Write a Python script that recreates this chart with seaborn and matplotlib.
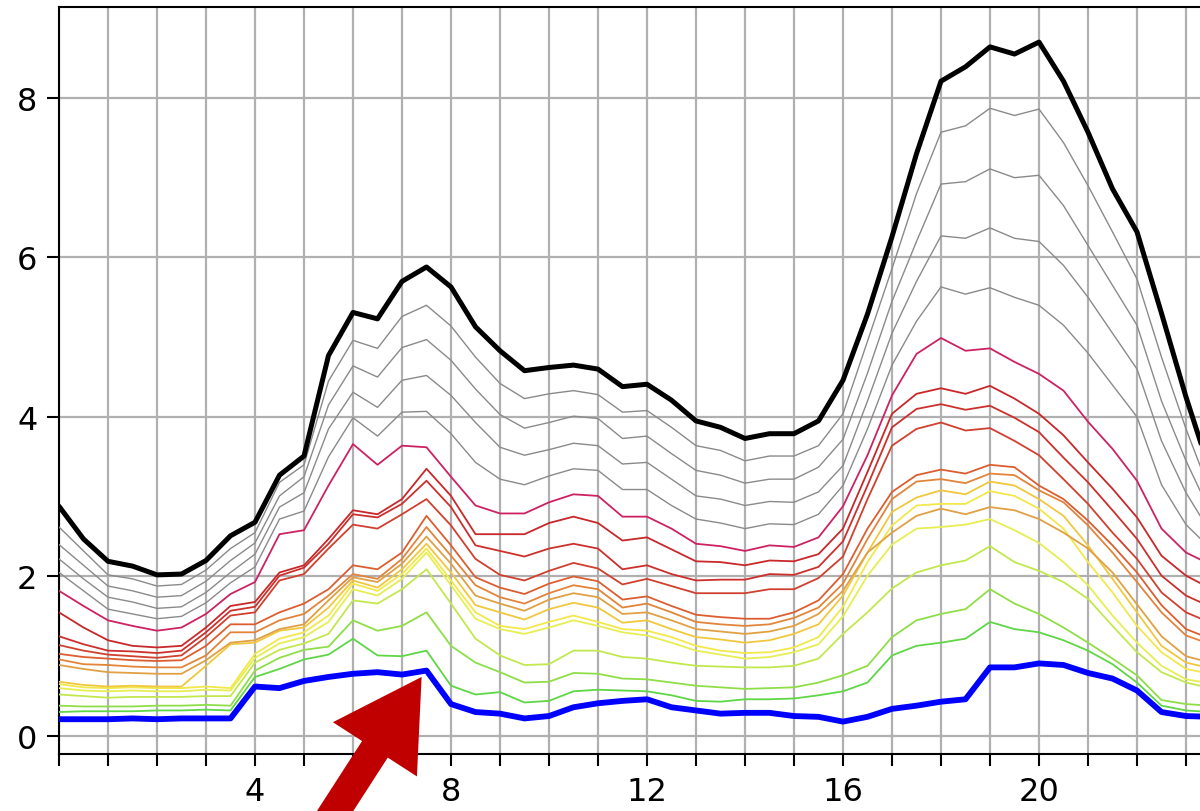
import numpy as np
import pandas as pd
import matplotlib
matplotlib.use("Agg")
import matplotlib.pyplot as plt
from matplotlib.ticker import MultipleLocator, FixedLocator
import seaborn as sns

# ---------------- data ----------------
hours = [i * 0.5 for i in range(48)]

upper_max = [2.88, 2.47, 2.19, 2.13, 2.02, 2.03, 2.20, 2.51,
             2.68, 3.27, 3.51, 4.77, 5.31, 5.23, 5.70, 5.88,
             5.63, 5.13, 4.83, 4.58, 4.62, 4.65, 4.60, 4.38,
             4.41, 4.21, 3.95, 3.87, 3.73, 3.79, 3.79, 3.95,
             4.46, 5.29, 6.26, 7.30, 8.21, 8.39, 8.64, 8.55,
             8.70, 8.21, 7.57, 6.86, 6.32, 5.30, 4.25, 3.30]

lower_min = [0.21, 0.21, 0.21, 0.22, 0.21, 0.22, 0.22, 0.22,
             0.62, 0.60, 0.69, 0.74, 0.78, 0.80, 0.77, 0.82,
             0.40, 0.30, 0.28, 0.22, 0.25, 0.36, 0.41, 0.44,
             0.46, 0.36, 0.32, 0.28, 0.29, 0.29, 0.25, 0.24,
             0.18, 0.24, 0.34, 0.38, 0.43, 0.46, 0.86, 0.86,
             0.91, 0.89, 0.79, 0.72, 0.57, 0.30, 0.25, 0.24]

gray_4 = [2.62, 2.32, 2.02, 1.97, 1.88, 1.90, 2.08, 2.35,
          2.55, 3.18, 3.40, 4.45, 4.96, 4.86, 5.26, 5.40,
          5.14, 4.75, 4.42, 4.23, 4.29, 4.33, 4.28, 4.06,
          4.08, 3.87, 3.64, 3.58, 3.45, 3.51, 3.51, 3.64,
          4.04, 4.95, 5.86, 6.80, 7.57, 7.65, 7.87, 7.78,
          7.86, 7.44, 6.90, 6.32, 5.73, 4.75, 3.85, 3.05]
gray_3 = [2.40, 2.14, 1.88, 1.82, 1.74, 1.76, 1.94, 2.20,
          2.42, 3.01, 3.25, 4.15, 4.64, 4.50, 4.87, 4.97,
          4.71, 4.35, 4.03, 3.86, 3.93, 4.01, 3.98, 3.73,
          3.76, 3.54, 3.33, 3.27, 3.17, 3.22, 3.22, 3.37,
          3.72, 4.55, 5.45, 6.20, 6.92, 6.95, 7.11, 7.00,
          7.03, 6.65, 6.15, 5.65, 5.15, 4.20, 3.45, 2.80]
gray_2 = [2.22, 1.97, 1.74, 1.68, 1.60, 1.62, 1.80, 2.05,
          2.28, 2.87, 3.05, 3.85, 4.31, 4.12, 4.46, 4.52,
          4.27, 3.93, 3.62, 3.52, 3.59, 3.67, 3.64, 3.41,
          3.43, 3.22, 3.01, 2.97, 2.89, 2.94, 2.93, 3.06,
          3.39, 4.20, 5.05, 5.70, 6.27, 6.24, 6.37, 6.24,
          6.20, 5.90, 5.50, 5.05, 4.60, 3.70, 3.05, 2.55]
gray_1 = [2.05, 1.82, 1.59, 1.53, 1.47, 1.50, 1.67, 1.92,
          2.12, 2.72, 2.82, 3.50, 3.99, 3.76, 4.06, 4.07,
          3.79, 3.43, 3.22, 3.15, 3.26, 3.35, 3.33, 3.09,
          3.09, 2.89, 2.72, 2.67, 2.60, 2.66, 2.65, 2.78,
          3.14, 3.85, 4.65, 5.20, 5.63, 5.54, 5.62, 5.50,
          5.40, 5.15, 4.80, 4.40, 4.00, 3.15, 2.65, 2.35]

crimson = [1.82, 1.63, 1.45, 1.38, 1.32, 1.36, 1.53, 1.78,
           1.93, 2.53, 2.58, 3.14, 3.66, 3.40, 3.64, 3.62,
           3.25, 2.89, 2.79, 2.79, 2.93, 3.03, 3.01, 2.75,
           2.75, 2.60, 2.41, 2.38, 2.32, 2.39, 2.37, 2.49,
           2.88, 3.52, 4.27, 4.79, 4.99, 4.83, 4.86, 4.69,
           4.54, 4.33, 3.94, 3.60, 3.20, 2.60, 2.30, 2.15]
red_3 = [1.55, 1.36, 1.20, 1.13, 1.11, 1.13, 1.36, 1.63,
         1.68, 2.05, 2.14, 2.47, 2.83, 2.78, 2.97, 3.35,
         3.01, 2.53, 2.53, 2.53, 2.67, 2.75, 2.67, 2.45,
         2.49, 2.34, 2.19, 2.18, 2.14, 2.20, 2.19, 2.28,
         2.60, 3.31, 4.04, 4.29, 4.36, 4.29, 4.39, 4.23,
         4.04, 3.77, 3.43, 3.10, 2.74, 2.26, 2.01, 1.85]
red_2 = [1.25, 1.15, 1.07, 1.06, 1.04, 1.07, 1.30, 1.57,
         1.62, 2.01, 2.11, 2.41, 2.78, 2.74, 2.91, 3.20,
         2.87, 2.39, 2.32, 2.25, 2.35, 2.41, 2.35, 2.09,
         2.14, 2.03, 1.95, 1.96, 1.96, 2.03, 2.02, 2.12,
         2.44, 3.14, 3.87, 4.10, 4.16, 4.09, 4.14, 3.99,
         3.81, 3.49, 3.18, 2.83, 2.47, 2.01, 1.76, 1.62]
red_1 = [1.14, 1.07, 1.02, 1.00, 0.98, 1.01, 1.24, 1.51,
         1.55, 1.95, 2.03, 2.35, 2.65, 2.60, 2.78, 2.97,
         2.64, 2.22, 2.02, 1.95, 2.07, 2.17, 2.10, 1.90,
         1.97, 1.88, 1.79, 1.79, 1.79, 1.84, 1.84, 1.98,
         2.25, 2.97, 3.64, 3.85, 3.93, 3.83, 3.86, 3.70,
         3.52, 3.22, 2.91, 2.55, 2.22, 1.80, 1.55, 1.42]
orange_red = [1.03, 0.99, 0.97, 0.95, 0.94, 0.95, 1.13, 1.40,
              1.40, 1.55, 1.66, 1.84, 2.14, 2.09, 2.30, 2.76,
              2.39, 1.99, 1.86, 1.78, 1.91, 2.00, 1.94, 1.71,
              1.75, 1.63, 1.52, 1.49, 1.47, 1.47, 1.55, 1.70,
              2.03, 2.60, 3.06, 3.27, 3.34, 3.29, 3.40, 3.37,
              3.14, 2.97, 2.70, 2.39, 2.05, 1.64, 1.34, 1.22]
orange = [0.96, 0.90, 0.89, 0.87, 0.86, 0.86, 1.01, 1.30,
          1.30, 1.45, 1.53, 1.76, 2.03, 1.97, 2.22, 2.62,
          2.26, 1.89, 1.74, 1.66, 1.79, 1.89, 1.84, 1.61,
          1.66, 1.55, 1.43, 1.40, 1.38, 1.40, 1.48, 1.61,
          1.91, 2.47, 2.97, 3.19, 3.22, 3.17, 3.29, 3.27,
          3.08, 2.93, 2.64, 2.30, 1.93, 1.55, 1.26, 1.15]
amber = [0.89, 0.84, 0.80, 0.79, 0.78, 0.78, 0.95, 1.17,
         1.20, 1.34, 1.40, 1.70, 1.99, 1.93, 2.16, 2.50,
         2.16, 1.76, 1.66, 1.57, 1.71, 1.79, 1.74, 1.53,
         1.55, 1.45, 1.34, 1.31, 1.28, 1.31, 1.38, 1.53,
         1.82, 2.30, 2.55, 2.76, 2.85, 2.78, 2.87, 2.83,
         2.72, 2.55, 2.35, 2.05, 1.65, 1.25, 1.00, 0.92]
gold = [0.68, 0.64, 0.62, 0.63, 0.62, 0.62, 0.88, 1.15,
        1.17, 1.32, 1.36, 1.61, 1.95, 1.86, 2.09, 2.41,
        2.05, 1.64, 1.55, 1.46, 1.59, 1.67, 1.61, 1.42,
        1.45, 1.34, 1.24, 1.21, 1.17, 1.20, 1.28, 1.40,
        1.76, 2.30, 2.81, 2.99, 3.08, 3.03, 3.19, 3.14,
        2.97, 2.76, 2.39, 1.97, 1.55, 1.13, 0.92, 0.85]
yellow_2 = [0.65, 0.61, 0.60, 0.61, 0.60, 0.60, 0.62, 0.60,
            1.03, 1.22, 1.30, 1.51, 1.91, 1.82, 2.03, 2.35,
            1.95, 1.55, 1.38, 1.34, 1.43, 1.51, 1.43, 1.34,
            1.32, 1.24, 1.13, 1.07, 1.04, 1.05, 1.11, 1.24,
            1.62, 2.18, 2.64, 2.89, 2.91, 2.91, 3.07, 3.01,
            2.85, 2.60, 2.18, 1.80, 1.38, 1.05, 0.84, 0.78]
yellow_1 = [0.60, 0.57, 0.56, 0.57, 0.56, 0.56, 0.58, 0.57,
            0.98, 1.16, 1.24, 1.43, 1.84, 1.76, 1.97, 2.30,
            1.89, 1.47, 1.34, 1.28, 1.36, 1.45, 1.38, 1.30,
            1.26, 1.17, 1.07, 1.02, 0.97, 0.99, 1.05, 1.15,
            1.50, 2.01, 2.40, 2.60, 2.62, 2.65, 2.72, 2.58,
            2.42, 2.18, 1.89, 1.51, 1.17, 0.88, 0.71, 0.66]
lime = [0.52, 0.50, 0.48, 0.49, 0.49, 0.49, 0.50, 0.50,
        0.92, 1.08, 1.16, 1.28, 1.70, 1.66, 1.84, 2.09,
        1.66, 1.22, 1.01, 0.89, 0.90, 1.07, 1.07, 0.99,
        0.97, 0.92, 0.88, 0.87, 0.86, 0.86, 0.88, 0.97,
        1.28, 1.55, 1.85, 2.05, 2.14, 2.20, 2.38, 2.18,
        2.07, 1.93, 1.72, 1.38, 1.05, 0.80, 0.67, 0.60]
green_2 = [0.38, 0.37, 0.37, 0.37, 0.38, 0.38, 0.39, 0.38,
           0.82, 0.98, 1.08, 1.12, 1.45, 1.32, 1.38, 1.55,
           1.13, 0.92, 0.80, 0.67, 0.68, 0.79, 0.78, 0.72,
           0.71, 0.67, 0.63, 0.61, 0.59, 0.60, 0.61, 0.67,
           0.76, 0.88, 1.24, 1.45, 1.53, 1.59, 1.84, 1.66,
           1.53, 1.36, 1.17, 0.97, 0.76, 0.45, 0.40, 0.38]
green_1 = [0.30, 0.31, 0.31, 0.31, 0.32, 0.32, 0.33, 0.32,
           0.74, 0.84, 0.96, 1.02, 1.22, 1.01, 1.00, 1.07,
           0.63, 0.52, 0.55, 0.42, 0.44, 0.56, 0.58, 0.57,
           0.56, 0.51, 0.44, 0.43, 0.46, 0.46, 0.47, 0.51,
           0.56, 0.67, 1.01, 1.13, 1.17, 1.22, 1.43, 1.34,
           1.30, 1.20, 1.07, 0.90, 0.67, 0.38, 0.32, 0.30]

y_ticks = [0, 2, 4, 6, 8]
x_major = [4, 8, 12, 16, 20]

# -------------- styling ---------------
sns.set_style("ticks")
plt.rcParams["font.family"] = ["DejaVu Sans"]

fig = plt.figure(figsize=(12, 8.12), dpi=100)
ax = fig.add_axes([59 / 1200, 57 / 812, (1210.5 - 59) / 1200, (755 - 8) / 812])

thin_lines = [
    (green_1, "#5fd646", 1.3),
    (green_2, "#8fde48", 1.3),
    (lime, "#c3e84e", 1.3),
    (yellow_1, "#e6ee52", 1.3),
    (yellow_2, "#f2e84a", 1.3),
    (gold, "#f0c83e", 1.3),
    (amber, "#e0a044", 1.3),
    (orange, "#e2843a", 1.3),
    (orange_red, "#dc5e30", 1.3),
    (red_1, "#d0402e", 1.3),
    (red_2, "#cc302c", 1.3),
    (red_3, "#c8282a", 1.3),
    (crimson, "#cc2262", 1.3),
    (gray_1, "#8a8a8a", 1.0),
    (gray_2, "#8a8a8a", 1.0),
    (gray_3, "#8a8a8a", 1.0),
    (gray_4, "#8a8a8a", 1.0),
]

for vals, col, lw in thin_lines:
    sns.lineplot(x=hours, y=vals, color=col, linewidth=lw, ax=ax, zorder=3)

sns.lineplot(x=hours, y=lower_min, color="#0000ff", linewidth=4.2, ax=ax, zorder=5)
sns.lineplot(x=hours, y=upper_max, color="#000000", linewidth=3.6, ax=ax, zorder=5)

ax.set_xlim(0, 23.5)
ax.set_ylim(-0.226, 9.14)

ax.xaxis.set_major_locator(FixedLocator(x_major))
ax.xaxis.set_minor_locator(MultipleLocator(1))
ax.set_yticks(y_ticks)

ax.grid(which="both", axis="x", color="#b0b0b0", linewidth=1.6, zorder=0)
ax.grid(which="major", axis="y", color="#b0b0b0", linewidth=1.6, zorder=0)
ax.set_axisbelow(True)

ax.tick_params(axis="both", which="both", direction="out", length=8.5, width=1.5,
               colors="black", labelsize=23, pad=7)
for side in ["left", "bottom", "top"]:
    ax.spines[side].set_visible(True)
    ax.spines[side].set_linewidth(1.5)
    ax.spines[side].set_color("black")
ax.spines["right"].set_visible(False)

ax.set_xlabel("")
ax.set_ylabel("")

ax.annotate("", xy=(7.4, 0.74), xytext=(5.1, -1.45), xycoords="data",
            textcoords="data", annotation_clip=False,
            arrowprops=dict(facecolor="#c00000", edgecolor="none",
                            width=22, headwidth=72, headlength=62),
            zorder=10)

fig.savefig("out.png", dpi=100)
